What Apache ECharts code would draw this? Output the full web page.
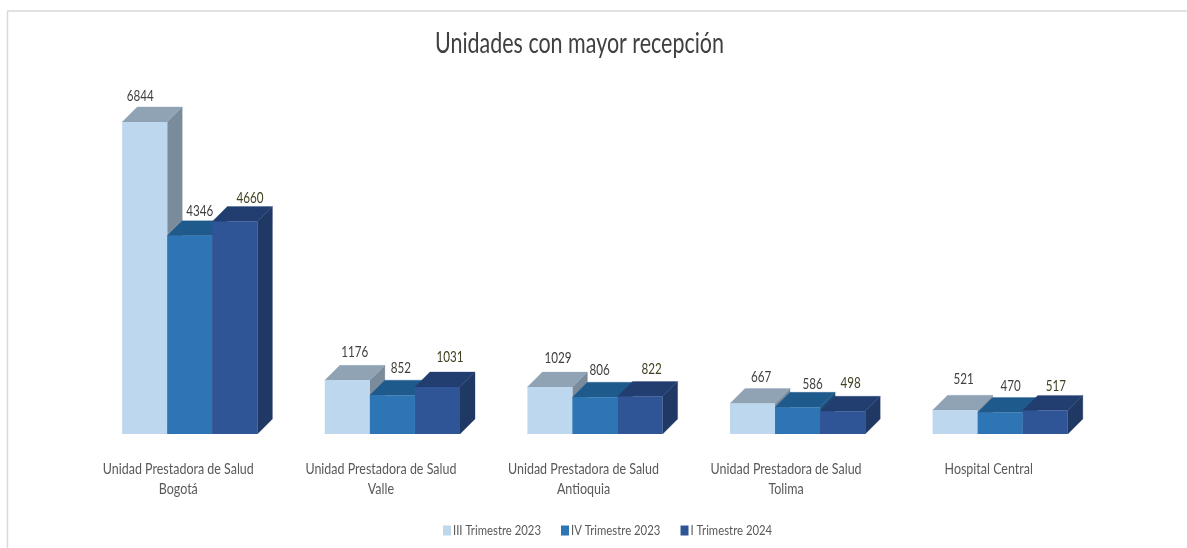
<!DOCTYPE html>
<html>
<head>
<meta charset="utf-8">
<style>html,body{margin:0;padding:0;background:#fff}#c{width:1187px;height:548px}</style>
<script src="https://cdn.jsdelivr.net/npm/echarts@6/dist/echarts.min.js"></script>
</head>
<body>
<div id="c"></div>
<script>
const categories = ['Unidad Prestadora de Salud\nBogotá','Unidad Prestadora de Salud\nValle','Unidad Prestadora de Salud\nAntioquia','Unidad Prestadora de Salud\nTolima','Hospital Central'];
const seriesNames = ['III Trimestre 2023','IV Trimestre 2023','I Trimestre 2024'];
const q3_2023 = [6844,1176,1029,667,521];
const q4_2023 = [4346,852,806,586,470];
const q1_2024 = [4660,1031,822,498,517];
const allValues = [q3_2023,q4_2023,q1_2024];
const titleText = 'Unidades con mayor recepción';

const FONT = 'Lato,"Open Sans",sans-serif';
const palette = [
  {front:'#BDD7EE', top:'#8FA3B5', side:'#7A8B9B', label:'#404040'},
  {front:'#2E75B6', top:'#1F5A8C', side:'#1F4E79', label:'#404040'},
  {front:'#2F5597', top:'#223E70', side:'#1F3864', label:'#3F3F1F'}
];
const DEPTH = 15, SHIFT = 11.5, WIDTH_RATIO = 0.2225;
// hand placement of value labels relative to the bar's front-top centre
const labelDX = [[-4.5,7.5,8,8.5,8.5],[10,8.5,4.5,15,10.5],[15,12.5,11.5,8,10.5]];
const labelDY = [[-26,-28.5,-29,-26,-31],[-25,-27,-27,-23,-26],[-23.5,-30,-27,-28,-24]];

// The reference uses a condensed face: squeeze Lato horizontally to the measured widths.
const mctx = document.createElement('canvas').getContext('2d');
function squeeze(text, size, target){ mctx.font = size+'px Lato'; return target/mctx.measureText(text).width; }
const TITLE_SIZE = 29, AXIS_SIZE = 15, VALUE_SIZE = 15, LEGEND_SIZE = 13;
const kTitle = squeeze(titleText, TITLE_SIZE, 289);
const kAxis = squeeze('Unidad Prestadora de Salud', AXIS_SIZE, 151);
const kValue = squeeze('6844', VALUE_SIZE, 27);
const kLegend = squeeze(seriesNames[0], LEGEND_SIZE, 88);
mctx.font = LEGEND_SIZE+'px Lato';
const legendGap = 105 - mctx.measureText(seriesNames[0]).width;

function makeRender(s){
  return function(params, api){
    const i = api.value(0), v = api.value(1);
    const base = api.coord([i,0]), topPt = api.coord([i,v]);
    const w = api.size([1,0])[0]*WIDTH_RATIO;
    const x0 = base[0]+SHIFT+(s-1.5)*w, x1 = x0+w, y0 = base[1], y1 = topPt[1];
    const c = palette[s];
    const poly = (pts,fill)=>({type:'polygon',shape:{points:pts},style:{fill:fill,stroke:fill,lineWidth:0.3}});
    return {type:'group',children:[
      poly([[x1,y0],[x1+DEPTH,y0-DEPTH],[x1+DEPTH,y1-DEPTH],[x1,y1]],c.side),
      poly([[x0,y1],[x0+DEPTH,y1-DEPTH],[x1+DEPTH,y1-DEPTH],[x1,y1]],c.top),
      {type:'rect',shape:{x:x0,y:y1,width:w,height:y0-y1},style:{fill:c.front}},
      {type:'text',x:x0+w/2+labelDX[s][i],y:y1+labelDY[s][i],scaleX:kValue,
       style:{text:String(v),align:'center',verticalAlign:'middle',font:VALUE_SIZE+'px '+FONT,fill:c.label}}
    ]};
  };
}

const chart = echarts.init(document.getElementById('c'),null,{renderer:'canvas'});
chart.setOption({
  animation:false,
  backgroundColor:'#fff',
  title:{text:titleText,left:574.5,textAlign:'center',top:24,textStyle:{fontFamily:FONT,fontSize:TITLE_SIZE,fontWeight:'normal',color:'#404040'}},
  legend:{data:seriesNames,left:438,top:519,icon:'rect',itemWidth:8,itemHeight:10,itemGap:legendGap,textStyle:{fontFamily:FONT,fontSize:LEGEND_SIZE,color:'#595959'}},
  grid:{left:77,right:97,top:114.8,bottom:114},
  xAxis:{type:'category',data:categories,axisLine:{show:false},axisTick:{show:false},
    axisLabel:{interval:0,margin:25,fontFamily:FONT,fontSize:AXIS_SIZE,lineHeight:20,color:'#595959'}},
  yAxis:{type:'value',min:0,max:7000,interval:1000,show:false},
  graphic:[
    {type:'line',shape:{x1:7,y1:11,x2:1187,y2:11},style:{stroke:'#d9d9d9',lineWidth:1.5},silent:true},
    {type:'line',shape:{x1:7.5,y1:11,x2:7.5,y2:548},style:{stroke:'#d9d9d9',lineWidth:1.5},silent:true}
  ],
  series:allValues.map((vals,s)=>({
    name:seriesNames[s],type:'custom',
    itemStyle:{color:palette[s].front},
    renderItem:makeRender(s),
    encode:{x:0,y:1},
    clip:false,
    data:vals.map((v,i)=>[i,v])
  }))
});

// Apply the horizontal squeeze to the title, axis and legend texts.
const zr = chart.getZr();
zr.storage.traverse(function(el){
  if(el.type!=='text' || !el.style || !el.style.text) return;
  const t = el.style.text;
  if(t===titleText){ el.scaleX = kTitle; }
  else if(categories.indexOf(t)>=0 || t.indexOf('Unidad Prestadora')===0){ el.scaleX = kAxis; }
  else if(seriesNames.indexOf(t)>=0){ el.scaleX = kLegend; el.x = (el.style.x||0)*(1-kLegend)-3; }
  else return;
  el.markRedraw();
});
zr.refresh();
</script>
</body>
</html>
